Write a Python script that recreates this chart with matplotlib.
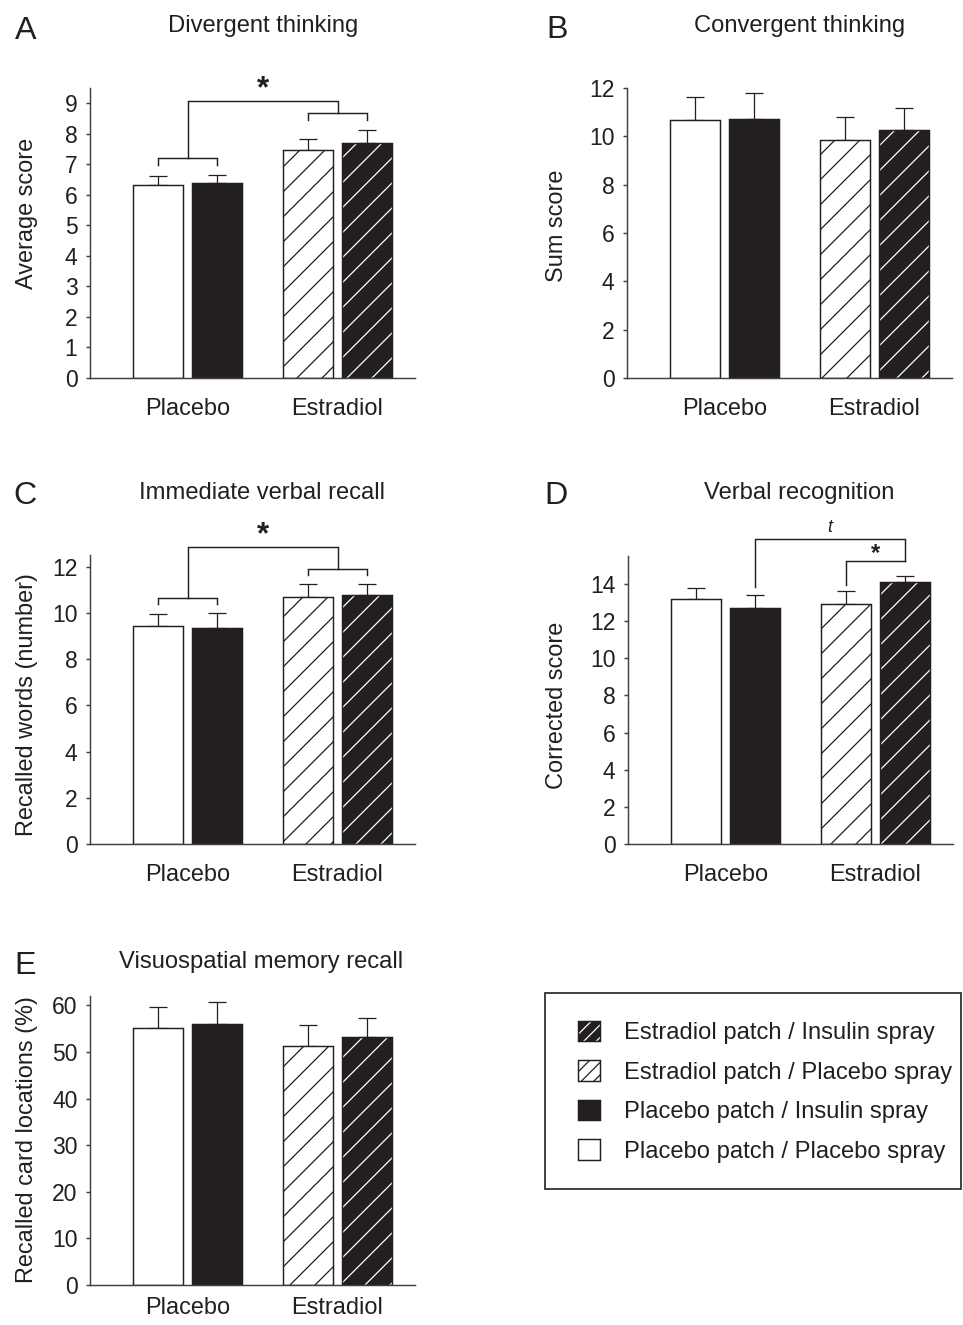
import matplotlib
matplotlib.use("Agg")
import matplotlib.pyplot as plt
from matplotlib.patches import Patch, Rectangle
from matplotlib.legend_handler import HandlerTuple

plt.rcParams["font.family"] = ["Liberation Sans", "DejaVu Sans"]
plt.rcParams["hatch.linewidth"] = 0.6

INK = "#231f20"
AXC = "#404040"

groups = ["Placebo", "Estradiol"]
conditions = ["Placebo patch / Placebo spray", "Placebo patch / Insulin spray",
              "Estradiol patch / Placebo spray", "Estradiol patch / Insulin spray"]

# bar order: placebo/placebo, placebo/insulin, estradiol/placebo, estradiol/insulin
divergent_mean = [6.30, 6.37, 7.46, 7.69]
divergent_sem = [0.30, 0.27, 0.36, 0.42]
convergent_mean = [10.66, 10.73, 9.85, 10.25]
convergent_sem = [0.95, 1.06, 0.94, 0.92]
recall_mean = [9.44, 9.34, 10.67, 10.76]
recall_sem = [0.49, 0.63, 0.56, 0.48]
recog_mean = [13.21, 12.71, 12.94, 14.10]
recog_sem = [0.59, 0.71, 0.66, 0.34]
spatial_mean = [55.05, 56.10, 51.30, 53.10]
spatial_sem = [4.55, 4.70, 4.40, 4.20]

W, H = 963, 1325
fig = plt.figure(figsize=(W / 150, H / 150), dpi=150)


def axes_px(l, r, t, b):
    return fig.add_axes([l / W, 1 - b / H, (r - l) / W, (b - t) / H])


centers = [1.0, 2.5]
off = 0.295
xs = [centers[0] - off, centers[0] + off, centers[1] - off, centers[1] + off]


def draw_panel(ax, means, sems, ymax, yticks, xpad=9.5):
    faces = ["white", INK, "white", INK]
    hatch_cols = [None, None, INK, "white"]
    for x, m, fc, hc in zip(xs, means, faces, hatch_cols):
        if hc is None:
            ax.bar(x, m, 0.5, color=fc, edgecolor=INK, linewidth=0.7, zorder=2)
        else:
            ax.bar(x, m, 0.5, color=fc, edgecolor=hc, hatch="//", linewidth=0, zorder=2)
            ax.bar(x, m, 0.5, fill=False, edgecolor=INK, linewidth=0.7, zorder=3)
    ax.errorbar(xs, means, yerr=[[0] * 4, sems], fmt="none", ecolor=INK,
                elinewidth=0.6, capsize=4.3, capthick=0.6, zorder=1)
    ax.set_xlim(0.025, 3.275)
    ax.set_ylim(0, ymax)
    ax.set_yticks(yticks)
    ax.set_xticks(centers, groups)
    for s in ["top", "right"]:
        ax.spines[s].set_visible(False)
    for s in ["left", "bottom"]:
        ax.spines[s].set_color(AXC)
        ax.spines[s].set_linewidth(0.7)
    ax.tick_params(axis="y", direction="out", length=2.0, width=0.7, color=AXC,
                   labelsize=11, pad=4, labelcolor=INK)
    ax.tick_params(axis="x", length=0, labelsize=11.3, pad=xpad, labelcolor=INK)


def line(ax, px, py):
    ax.plot(px, py, color=INK, lw=0.7, clip_on=False, solid_joinstyle="miter")


# A
axA = axes_px(90, 415, 87.7, 378)
draw_panel(axA, divergent_mean, divergent_sem, 9.5, range(0, 10))
line(axA, [xs[0], xs[0], xs[1], xs[1]], [6.97, 7.19, 7.19, 6.97])
line(axA, [xs[2], xs[2], xs[3], xs[3]], [8.45, 8.67, 8.67, 8.45])
line(axA, [1.0, 1.0, 2.5, 2.5], [7.19, 9.08, 9.08, 8.67])
axA.text(1.75, 9.45, "*", ha="center", va="center", fontsize=15, fontweight="bold",
         color=INK, clip_on=False)

# B
axB = axes_px(627, 952, 88, 378)
draw_panel(axB, convergent_mean, convergent_sem, 12, range(0, 13, 2))

# C
axC = axes_px(90, 415, 555, 844)
draw_panel(axC, recall_mean, recall_sem, 12.5, range(0, 13, 2))
line(axC, [xs[0], xs[0], xs[1], xs[1]], [10.38, 10.64, 10.64, 10.38])
line(axC, [xs[2], xs[2], xs[3], xs[3]], [11.64, 11.90, 11.90, 11.64])
line(axC, [1.0, 1.0, 2.5, 2.5], [10.64, 12.85, 12.85, 11.90])
axC.text(1.75, 13.35, "*", ha="center", va="center", fontsize=15, fontweight="bold",
         color=INK, clip_on=False)

# D
axD = axes_px(628, 953, 556, 844)
draw_panel(axD, recog_mean, recog_sem, 15.5, range(0, 15, 2))
line(axD, [xs[1], xs[1], xs[3], xs[3]], [13.82, 16.4, 16.4, 15.25])
line(axD, [xs[2], xs[2], xs[3]], [13.94, 15.25, 15.25])
axD.text((xs[1] + xs[3]) / 2, 17.06, "t", ha="center", va="center", fontsize=8.5,
         fontstyle="italic", color=INK, clip_on=False)
axD.text((xs[2] + xs[3]) / 2, 15.65, "*", ha="center", va="center", fontsize=11.5,
         fontweight="bold", color=INK, clip_on=False)

# E
axE = axes_px(90, 415, 996, 1285)
draw_panel(axE, spatial_mean, spatial_sem, 62, range(0, 61, 10), xpad=6)

# titles, letters, y labels
titles = [("A", 26, 31, "Divergent thinking", 263, 26, "Average score", 27, 213),
          ("B", 557, 30, "Convergent thinking", 800, 26, "Sum score", 557, 226),
          ("C", 25, 496, "Immediate verbal recall", 262, 493, "Recalled words (number)", 27, 705),
          ("D", 556, 496, "Verbal recognition", 799, 493, "Corrected score", 557, 705),
          ("E", 25, 966, "Visuospatial memory recall", 261, 962, "Recalled card locations (%)", 27, 1140)]
for let, lx, ly, tt, tx, ty, yl, yx, yy in titles:
    fig.text(lx / W, 1 - ly / H, let, ha="center", va="center", fontsize=15.5, color=INK)
    fig.text(tx / W, 1 - ty / H, tt, ha="center", va="center", fontsize=11.4, color=INK)
    fig.text(yx / W, 1 - yy / H, yl, ha="center", va="center", rotation=90,
             fontsize=11.3, color=INK)

# legend
fig.add_artist(Rectangle((545 / W, 1 - 1189 / H), (961 - 545) / W, (1189 - 993) / H,
                         transform=fig.transFigure, fill=False, edgecolor=INK, lw=0.8))


def handle(fc, hc):
    outline = Patch(facecolor="none", edgecolor=INK, linewidth=0.7)
    if hc is None:
        return Patch(facecolor=fc, edgecolor=INK, linewidth=0.7)
    return (Patch(facecolor=fc, edgecolor=hc, hatch="////", linewidth=0), outline)


handles = [handle(INK, "white"), handle("white", INK), handle(INK, None), handle("white", None)]
labels = [conditions[3], conditions[2], conditions[1], conditions[0]]
fig.legend(handles, labels, loc="upper left", bbox_to_anchor=(578 / W, 1 - 1021 / H),
           frameon=False, fontsize=11.4, handlelength=0.94, handleheight=0.94,
           handletextpad=0.98, labelspacing=0.68, borderpad=0, borderaxespad=0,
           handler_map={tuple: HandlerTuple(ndivide=1, pad=0)},
           labelcolor=INK)

fig.savefig("out.png", dpi=150)
